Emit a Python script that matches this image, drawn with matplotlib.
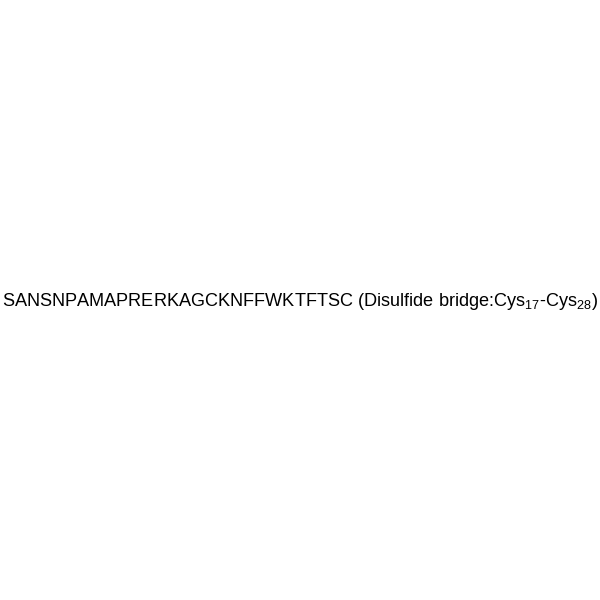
import matplotlib
matplotlib.use("Agg")
import matplotlib.pyplot as plt

plt.rcParams['font.family'] = ['Liberation Sans', 'DejaVu Sans']
plt.rcParams['mathtext.fontset'] = 'custom'
plt.rcParams['mathtext.rm'] = 'Liberation Sans'
plt.rcParams['mathtext.it'] = 'Liberation Sans'

sequence = "SANSNPAMAPRERKAGCKNFFWKTFTSC"
bridge_label = "Disulfide bridge"
residue = "Cys"
bridge_pos = [17, 28]

label = "%s (%s:%s$_{%d}$-%s$_{%d}$)" % (
    sequence, bridge_label, residue, bridge_pos[0], residue, bridge_pos[1])

fig = plt.figure(figsize=(6, 6), dpi=100)
fig.text(0.5, 0.4967, label, ha='center', va='center', fontsize=13.05, color='black')
fig.savefig("out.png", dpi=100, facecolor='white')
